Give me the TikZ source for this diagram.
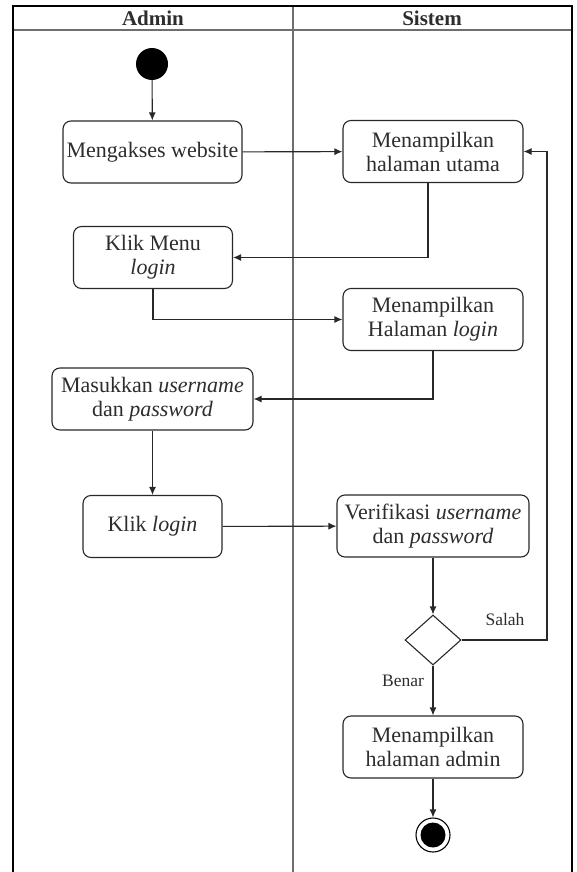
\documentclass[tikz,border=0pt]{standalone}
\usepackage{fontspec}
\setmainfont{Liberation Serif}
\usepackage{tikz}
\usepackage{xcolor}
\usetikzlibrary{shapes.geometric, arrows.meta, positioning, calc}
\definecolor{cLine}{RGB}{40,40,40}
\definecolor{cLane}{RGB}{110,110,110}
\definecolor{cText}{RGB}{45,45,45}
\tikzset{
	activity/.style ={rectangle, rounded corners=8pt, draw=cLine, line width=1.1pt, align=center, text=cText, minimum height=62pt, inner sep=2pt, font=\fontsize{22}{24}\selectfont},
	decision/.style ={diamond, draw=cLine, line width=1.1pt, minimum width=56pt, minimum height=50pt, inner sep=0pt},
	initial/.style  ={circle, fill=black, minimum size=32pt, inner sep=0pt},
	finalout/.style ={circle, draw=black, line width=1.1pt, minimum size=34pt, inner sep=0pt},
	finalin/.style  ={circle, fill=black, minimum size=25pt, inner sep=0pt},
	lanehead/.style ={font=\fontsize{21}{23}\selectfont\bfseries, text=cText},
	guard/.style    ={font=\fontsize{17.5}{20}\selectfont, text=cText},
	flowarrow/.style={-{Latex[length=8pt, width=7pt]}, line width=1.1pt, draw=cLine},
}
\begin{document}
\begin{tikzpicture}[x=1pt, y=-1pt]
	\useasboundingbox (0,0) rectangle (576,872);
	% swimlanes
	\draw[line width=1.6pt, cLane] (13,30) -- (572,30);
	\draw[line width=2.4pt, cLane] (293,6) -- (293,872);
	\draw[line width=1.8pt, black] (13,872) -- (13,6) -- (572,6) -- (572,872);
	\node[lanehead] (hadmin) at (153,18) {Admin};
	\node[lanehead] (hsistem) at (432,18) {Sistem};
	% activities
	\node[initial] (start) at (152,64) {};
	\node[activity, minimum width=179pt] (akses) at (152.5,152) {Mengakses website};
	\node[activity, minimum width=180pt] (utama) at (433,151.5) {Menampilkan\\halaman utama};
	\node[activity, minimum width=159pt] (menu) at (153,257.5) {Klik Menu\\\textit{login}};
	\node[activity, minimum width=180pt] (hlogin) at (433,319.5) {Menampilkan\\Halaman \textit{login}};
	\node[activity, minimum width=201pt] (masuk) at (152.5,399) {Masukkan \textit{username}\\dan \textit{password}};
	\node[activity, minimum width=139pt] (klik) at (152.5,526.5) {Klik \textit{login}};
	\node[activity, minimum width=192pt] (verif) at (433,526) {Verifikasi \textit{username}\\dan \textit{password}};
	\node[decision] (cek) at (433,640) {};
	\node[activity, minimum width=180pt] (hadmin2) at (433,747) {Menampilkan\\halaman admin};
	\node[finalout] (end) at (433,835) {};
	\node[finalin] (endin) at (433,835) {};
	\coordinate (back) at (547,640);
	% flows
	\draw[flowarrow] (start) -- (akses);
	\draw[flowarrow] (akses) -- (utama);
	\draw[flowarrow] ([xshift=-5pt]utama.south) |- (menu.east);
	\draw[flowarrow] (menu.south) |- (hlogin.west);
	\draw[flowarrow] (hlogin.south) |- (masuk.east);
	\draw[flowarrow] (masuk) -- (klik);
	\draw[flowarrow] (klik) -- (verif);
	\draw[flowarrow] (verif) -- (cek);
	\draw[flowarrow] (cek.east) -- (back) |- (utama.east);
	\draw[flowarrow] (cek) -- (hadmin2);
	\draw[flowarrow] (hadmin2) -- (end);
	\node[guard] (salah) at (505,620) {Salah};
	\node[guard] (benar) at (403,681) {Benar};
\end{tikzpicture}
\end{document}
